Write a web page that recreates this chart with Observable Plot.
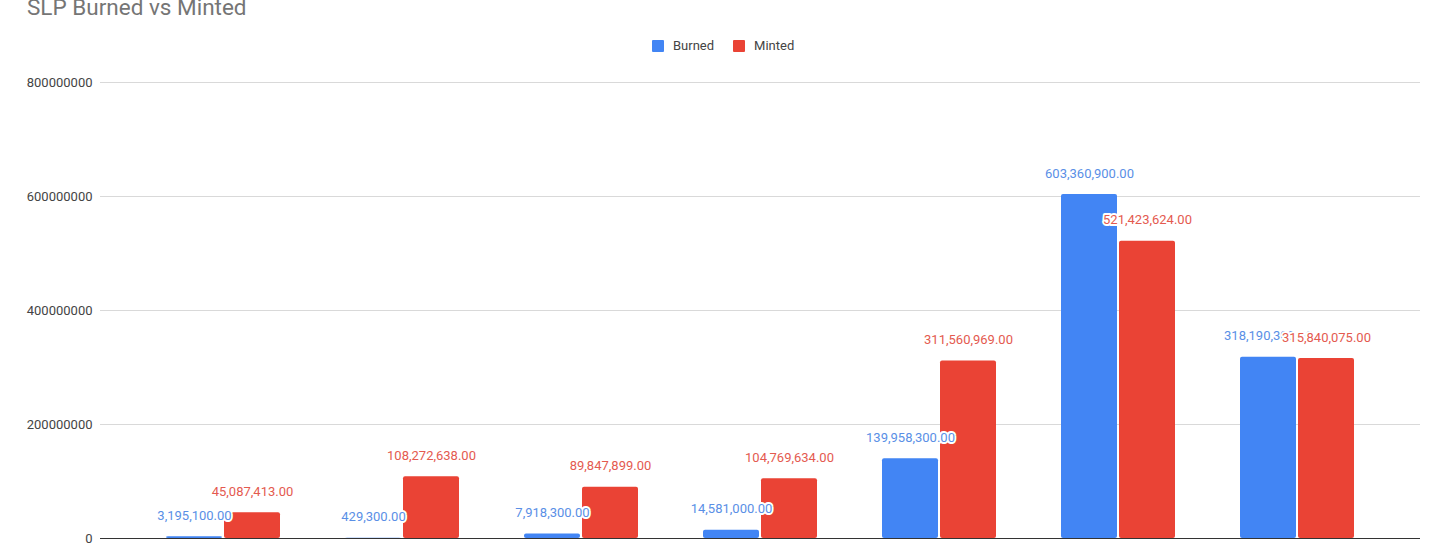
<!DOCTYPE html>
<html>
<head>
<meta charset="utf-8">
<script src="https://cdn.jsdelivr.net/npm/d3@7"></script>
<script src="https://cdn.jsdelivr.net/npm/@observablehq/plot@0.6"></script>
<style>
  html, body { margin: 0; padding: 0; background: #fff; overflow: hidden; }
  #wrap { position: relative; width: 1433px; height: 544px; font-family: Roboto, "Liberation Sans", Arial, sans-serif; }
  #title { position: absolute; left: 27px; top: -4px; font-size: 22.5px; line-height: 22px; color: #757575; white-space: nowrap; }
  #legend { position: absolute; left: 652px; top: 39px; display: flex; align-items: center; font-size: 13px; color: #444; line-height: 14px; }
  .sw { width: 12px; height: 12px; border-radius: 1px; margin-right: 9px; }
  .item { display: flex; align-items: center; margin-right: 19px; }
  #chart { position: absolute; left: 0; top: 0; }
</style>
</head>
<body>
<div id="wrap">
  <div id="chart"></div>
  <div id="title">SLP Burned vs Minted</div>
  <div id="legend"></div>
</div>
<script>
const categories = ["1", "2", "3", "4", "5", "6", "7"];
const burned = [3195100, 429300, 7918300, 14581000, 139958300, 603360900, 318190300];
const minted = [45087413, 108272638, 89847899, 104769634, 311560969, 521423624, 315840075];
const seriesNames = ["Burned", "Minted"];
const seriesColors = ["#4285F4", "#EA4335"];
const yTicks = [0, 200000000, 400000000, 600000000, 800000000];

const rows = categories.map((c, i) => ({category: c, burned: burned[i], minted: minted[i]}));
const fmt = d3.format(",.2f");

const legend = document.getElementById("legend");
seriesNames.forEach((n, i) => {
  const it = document.createElement("div");
  it.className = "item";
  it.innerHTML = `<div class="sw" style="background:${seriesColors[i]}"></div><span>${n}</span>`;
  legend.appendChild(it);
});

const chart = Plot.plot({
  width: 1433,
  height: 544,
  marginTop: 82,
  marginBottom: 6,
  marginLeft: 100,
  marginRight: 13,
  style: {fontFamily: "Roboto, 'Liberation Sans', Arial, sans-serif", background: "#fff", overflow: "visible"},
  x: {domain: categories, paddingInner: 0.365, paddingOuter: 0.35, axis: null},
  y: {domain: [0, 800000000], axis: null},
  marks: [
    Plot.ruleY(yTicks.filter(d => d > 0), {stroke: "#d9d9d9", strokeWidth: 1}),
    Plot.axisY(yTicks, {tickSize: 0, tickPadding: 8, tickFormat: d3.format("d"), fontSize: 13, fill: "#444", textAnchor: "end"}),
    Plot.barY(rows, {x: "category", y: "burned", fill: seriesColors[0], insetRight: 58, rx: 2}),
    Plot.barY(rows, {x: "category", y: "minted", fill: seriesColors[1], insetLeft: 58, rx: 2}),
    Plot.ruleY([0], {stroke: "#333", strokeWidth: 1}),
    Plot.text(rows, {x: "category", y: "burned", text: d => fmt(d.burned), dx: -29, dy: -21, fill: "#5a8fe6", stroke: "white", strokeWidth: 4, fontSize: 13}),
    Plot.text(rows, {x: "category", y: "minted", text: d => fmt(d.minted), dx: 29, dy: -21, fill: "#e45a4f", stroke: "white", strokeWidth: 4, fontSize: 13})
  ]
});
document.getElementById("chart").appendChild(chart);
</script>
</body>
</html>
